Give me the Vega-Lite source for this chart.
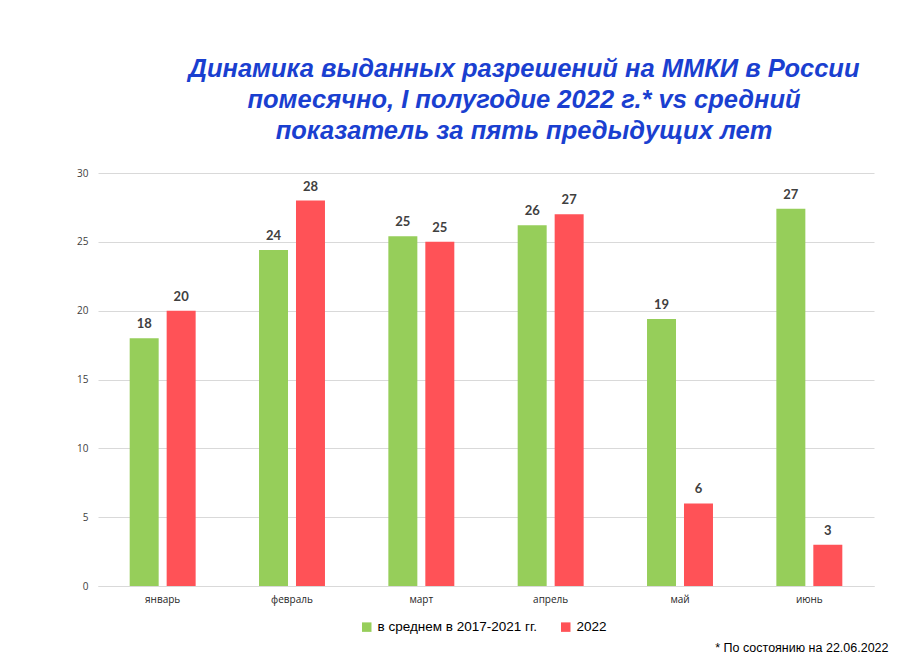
{
  "$schema": "https://vega.github.io/schema/vega-lite/v6.json",
  "autosize": {"type": "none"},
  "width": 776,
  "height": 413,
  "padding": {"left": 98, "top": 173, "right": 28, "bottom": 70},
  "background": "white",
  "title": {
    "text": ["Динамика выданных разрешений на ММКИ в России", "помесячно, I полугодие 2022 г.* vs средний", "показатель за пять предыдущих лет"],
    "font": "Liberation Sans",
    "fontSize": 25.5,
    "fontWeight": "bold",
    "fontStyle": "italic",
    "color": "#1a3fd0",
    "lineHeight": 31,
    "anchor": "middle",
    "dx": 38,
    "offset": 24
  },
  "data": {
    "values": [
      {"month": "январь", "series": "в среднем в 2017-2021 гг.", "value": 18.0},
      {"month": "январь", "series": "2022", "value": 20},
      {"month": "февраль", "series": "в среднем в 2017-2021 гг.", "value": 24.4},
      {"month": "февраль", "series": "2022", "value": 28},
      {"month": "март", "series": "в среднем в 2017-2021 гг.", "value": 25.4},
      {"month": "март", "series": "2022", "value": 25},
      {"month": "апрель", "series": "в среднем в 2017-2021 гг.", "value": 26.2},
      {"month": "апрель", "series": "2022", "value": 27},
      {"month": "май", "series": "в среднем в 2017-2021 гг.", "value": 19.4},
      {"month": "май", "series": "2022", "value": 6},
      {"month": "июнь", "series": "в среднем в 2017-2021 гг.", "value": 27.4},
      {"month": "июнь", "series": "2022", "value": 3}
    ]
  },
  "encoding": {
    "x": {
      "field": "month",
      "type": "nominal",
      "sort": ["январь", "февраль", "март", "апрель", "май", "июнь"],
      "scale": {"paddingInner": 0.49, "paddingOuter": 0.245},
      "axis": {
        "title": "* По состоянию на 22.06.2022",
        "titleFont": "Liberation Sans",
        "titleFontSize": 12.5,
        "titleFontWeight": "normal",
        "titleColor": "#000000",
        "titleAnchor": "end",
        "titleAlign": "right",
        "titleBaseline": "bottom",
        "titleX": 790,
        "titleY": 68,
        "labelAngle": 0,
        "labelFont": "Open Sans",
        "labelFontSize": 10,
        "labelColor": "#262626",
        "labelPadding": 8,
        "ticks": false,
        "domainColor": "#d9d9d9"
      }
    },
    "xOffset": {
      "field": "series",
      "type": "nominal",
      "sort": ["в среднем в 2017-2021 гг.", "2022"],
      "scale": {"paddingInner": 0.216, "paddingOuter": 0}
    },
    "y": {
      "field": "value",
      "type": "quantitative",
      "scale": {"domain": [0, 30], "nice": false},
      "axis": {
        "title": null,
        "values": [0, 5, 10, 15, 20, 25, 30],
        "labelFont": "Open Sans",
        "labelFontSize": 10,
        "labelColor": "#404040",
        "labelPadding": 10,
        "ticks": false,
        "domain": false,
        "gridColor": "#d9d9d9",
        "gridWidth": 1
      }
    }
  },
  "layer": [
    {
      "mark": {"type": "bar"},
      "encoding": {
        "color": {
          "field": "series",
          "type": "nominal",
          "sort": ["в среднем в 2017-2021 гг.", "2022"],
          "scale": {"domain": ["в среднем в 2017-2021 гг.", "2022"], "range": ["#96ce5a", "#ff5257"]},
          "legend": {
            "title": null,
            "orient": "none",
            "direction": "horizontal",
            "legendX": 262,
            "legendY": 447,
            "symbolType": "square",
            "symbolSize": 90,
            "symbolStrokeWidth": 0,
            "labelFont": "Liberation Sans",
            "labelFontSize": 13.5,
            "labelColor": "#000000",
            "labelOffset": 4,
            "columnPadding": 22
          }
        }
      }
    },
    {
      "mark": {"type": "text", "baseline": "bottom", "dy": -7, "font": "Lato", "fontWeight": "bold", "fontSize": 13, "color": "#404040"},
      "encoding": {
        "text": {"field": "value", "type": "quantitative", "format": ".0f"}
      }
    }
  ],
  "config": {
    "view": {"stroke": null}
  }
}
